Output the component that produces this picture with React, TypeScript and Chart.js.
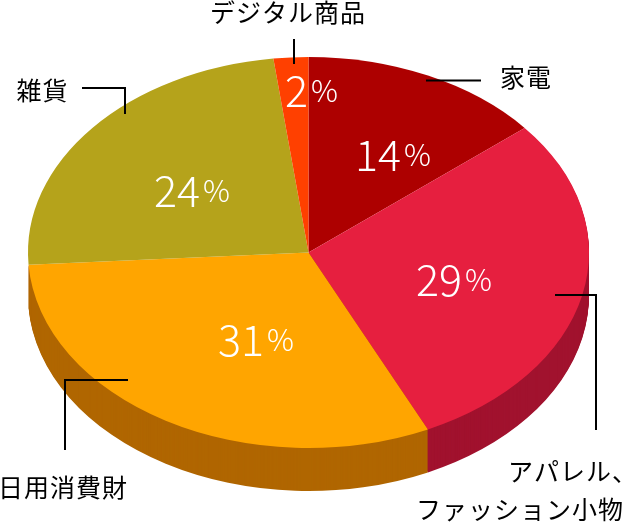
import React, { useEffect, useRef } from "react";
import { Chart, registerables } from "chart.js";

Chart.register(...registerables);

const categories = ["家電", "アパレル、ファッション小物", "日用消費財", "雑貨", "デジタル商品"];
const shares = [14, 29, 31, 24, 2];
const topColors = ["#AD0000", "#E61F3F", "#FFA500", "#B5A31B", "#FF4000"];
// Only the walls that face the viewer are painted.
const sideColors = [null, "#A1122E", "#B06600", null, null];

const CENTER_X = 308.5;
const CENTER_Y = 252.5;
const RADIUS_X = 280.5;
const RADIUS_Y = 195.5;
const DEPTH = 43;
const FONT = '"Noto Sans CJK JP", "Noto Sans", sans-serif';

const valueAnchors = [
  { num: 355, y: 155 },
  { num: 416, y: 280 },
  { num: 218, y: 340 },
  { num: 154, y: 191 },
  { num: 285, y: 91 },
];

const captions = [
  { text: "家電", x: 500, y: 77.5 },
  { text: "アパレル、", x: 508, y: 471 },
  { text: "ファッション小物", x: 416, y: 509 },
  { text: "日用消費財", x: -2, y: 487 },
  { text: "雑貨", x: 16.5, y: 90 },
  { text: "デジタル商品", x: 210, y: 12 },
];

const leaders = [
  [[426, 80.5], [481, 80.5]],
  [[555, 295], [596, 295], [596, 430]],
  [[128, 380], [65, 380], [65, 450]],
  [[82, 88], [125, 88], [125, 114]],
  [[294, 39], [294, 64]],
];

const pie3d = {
  id: "pie3d",
  beforeDatasetsDraw(chart: any) {
    const ctx = chart.ctx;
    const arcs = chart.getDatasetMeta(0).data;
    const { x, y, outerRadius } = arcs[0];
    ctx.save();
    ctx.translate(CENTER_X, CENTER_Y);
    ctx.scale(RADIUS_X / outerRadius, RADIUS_Y / outerRadius);
    ctx.translate(-x, -y);
    // extruded wall: the library's own arcs, repeated downward
    const unit = outerRadius / RADIUS_Y;
    for (let d = DEPTH; d >= 1; d--) {
      ctx.save();
      ctx.translate(0, d * unit);
      arcs.forEach((arc: any, i: number) => {
        if (!sideColors[i]) return;
        const opts = arc.options;
        arc.options = Object.create(opts, {
          backgroundColor: { value: sideColors[i] },
        });
        arc.draw(ctx);
        arc.options = opts;
      });
      ctx.restore();
    }
  },
  afterDatasetsDraw(chart: any) {
    const ctx = chart.ctx;
    ctx.restore();
    ctx.save();
    ctx.strokeStyle = "#000";
    ctx.lineWidth = 2;
    leaders.forEach((pts) => {
      ctx.beginPath();
      pts.forEach(([px, py], i) => (i ? ctx.lineTo(px, py) : ctx.moveTo(px, py)));
      ctx.stroke();
    });
    ctx.textBaseline = "middle";
    ctx.textAlign = "left";
    ctx.fillStyle = "#fff";
    shares.forEach((v, i) => {
      const a = valueAnchors[i];
      ctx.font = `300 43px ${FONT}`;
      const s = String(v);
      ctx.fillText(s, a.num, a.y);
      const w = ctx.measureText(s).width;
      ctx.font = `300 30px ${FONT}`;
      ctx.fillText("%", a.num + w + 3, a.y);
    });
    ctx.fillStyle = "#000";
    ctx.font = `400 25px ${FONT}`;
    (ctx as any).letterSpacing = "1px";
    captions.forEach((c) => ctx.fillText(c.text, c.x, c.y));
    (ctx as any).letterSpacing = "0px";
    ctx.restore();
  },
};

export default function App() {
  const ref = useRef<HTMLCanvasElement>(null);
  useEffect(() => {
    const chart = new Chart(ref.current!, {
      type: "pie",
      data: {
        labels: categories,
        datasets: [{ data: shares, backgroundColor: topColors, borderWidth: 0 }],
      },
      options: {
        animation: false,
        responsive: false,
        plugins: { legend: { display: false }, tooltip: { enabled: false } },
      },
      plugins: [pie3d],
    } as any);
    return () => chart.destroy();
  }, []);
  return (
    <div style={{ position: "fixed", left: 0, top: 0, width: 623, height: 523 }}>
      <canvas ref={ref} width={623} height={523} style={{ display: "block" }} />
    </div>
  );
}
